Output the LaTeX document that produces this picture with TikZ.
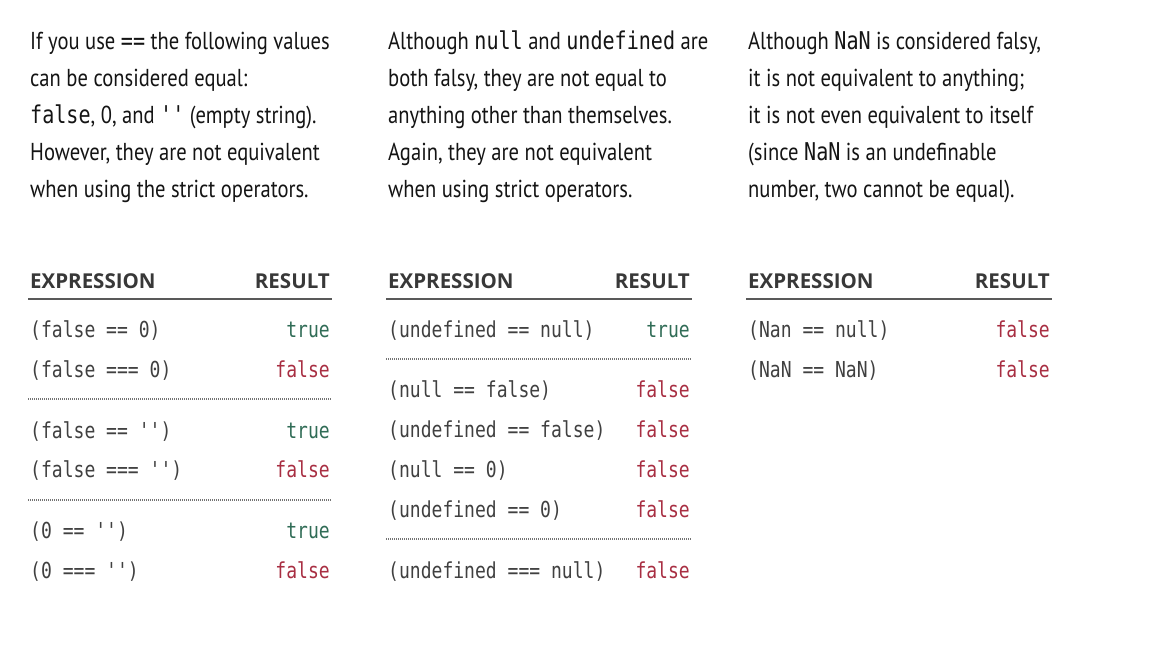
\documentclass[tikz,border=0pt]{standalone}
\usepackage{fontspec}
\setmainfont[FakeStretch=0.84]{PT Sans}
\setmonofont[FakeStretch=0.82]{DejaVu Sans Mono}
\newfontfamily\headfont{Open Sans}
\definecolor{truegreen}{RGB}{48,108,86}
\definecolor{falsered}{RGB}{168,46,66}
\tikzset{
  para/.style={anchor=base west, inner sep=0pt, font=\fontsize{24.5}{24.5}\selectfont, text=black!92},
  head/.style={inner sep=0pt, font=\fontsize{20.5}{20.5}\headfont\bfseries, text=black!78},
  expr/.style={anchor=base west, inner sep=0pt, font=\fontsize{22}{22}\selectfont\ttfamily, text=black!75},
  res/.style={anchor=base east, inner sep=0pt, font=\fontsize{22}{22}\selectfont\ttfamily},
  yes/.style={res, text=truegreen},
  no/.style={res, text=falsered},
  headrule/.style={line width=2pt, black!65},
  dotrule/.style={line width=1.2pt, black!55, dash pattern=on 1pt off 1pt}
}
\def\tablehead(#1)(#2:#3){%
  \node[head, anchor=base west] (#1exp) at (#2,288) {EXPRESSION};
  \node[head, anchor=base east] (#1res) at (#3,288) {RESULT};
  \draw[headrule] (#2-2,299) -- (#3+2,299);}

\begin{document}
\begin{tikzpicture}[x=1pt,y=-1pt]
		%%%%% START %%%%%
		\useasboundingbox (0,0) rectangle (1152,648);
		\fill[white] (0,0) rectangle (1152,648);
		
		% loose equality
		\node[para] (a1) at (30,49) {If you use \texttt{==} the following values};
		\node[para] (a2) at (30,86) {can be considered equal:};
		\node[para] (a3) at (30,123) {\texttt{false}, 0, and \texttt{''} (empty string).};
		\node[para] (a4) at (30,160) {However, they are not equivalent};
		\node[para] (a5) at (30,197) {when using the strict operators.};
		
		\tablehead(a)(30:330)
		\node[expr] (ae1) at (30,337) {(false == 0)};   \node[yes] (ar1) at (330,337) {true};
		\node[expr] (ae2) at (30,377) {(false === 0)};  \node[no] (ar2) at (330,377) {false};
		\draw[dotrule] (28,399) -- (332,399);
		\node[expr] (ae3) at (30,438) {(false == '')};  \node[yes] (ar3) at (330,438) {true};
		\node[expr] (ae4) at (30,477) {(false === '')}; \node[no] (ar4) at (330,477) {false};
		\draw[dotrule] (28,500) -- (332,500);
		\node[expr] (ae5) at (30,538) {(0 == '')};      \node[yes] (ar5) at (330,538) {true};
		\node[expr] (ae6) at (30,578) {(0 === '')};     \node[no] (ar6) at (330,578) {false};
		
		% null and undefined
		\node[para] (b1) at (388,49) {Although \texttt{null} and \texttt{undefined} are};
		\node[para] (b2) at (388,86) {both falsy, they are not equal to};
		\node[para] (b3) at (388,123) {anything other than themselves.};
		\node[para] (b4) at (388,160) {Again, they are not equivalent};
		\node[para] (b5) at (388,197) {when using strict operators.};
		
		\tablehead(b)(388:690)
		\node[expr] (be1) at (388,337) {(undefined == null)};  \node[yes] (br1) at (690,337) {true};
		\draw[dotrule] (386,359) -- (692,359);
		\node[expr] (be2) at (388,397) {(null == false)};      \node[no] (br2) at (690,397) {false};
		\node[expr] (be3) at (388,437) {(undefined == false)}; \node[no] (br3) at (690,437) {false};
		\node[expr] (be4) at (388,477) {(null == 0)};          \node[no] (br4) at (690,477) {false};
		\node[expr] (be5) at (388,517) {(undefined == 0)};     \node[no] (br5) at (690,517) {false};
		\draw[dotrule] (386,539) -- (692,539);
		\node[expr] (be6) at (388,578) {(undefined === null)}; \node[no] (br6) at (690,578) {false};
		
		% NaN
		\node[para] (c1) at (748,49) {Although \texttt{NaN} is considered falsy,};
		\node[para] (c2) at (748,86) {it is not equivalent to anything;};
		\node[para] (c3) at (748,123) {it is not even equivalent to itself};
		\node[para] (c4) at (748,160) {(since \texttt{NaN} is an undefinable};
		\node[para] (c5) at (748,197) {number, two cannot be equal).};
		
		\tablehead(c)(748:1050)
		\node[expr] (ce1) at (748,337) {(Nan == null)}; \node[no] (cr1) at (1050,337) {false};
		\node[expr] (ce2) at (748,377) {(NaN == NaN)};  \node[no] (cr2) at (1050,377) {false};
		%%%%% END %%%%%
\end{tikzpicture}
\end{document}
